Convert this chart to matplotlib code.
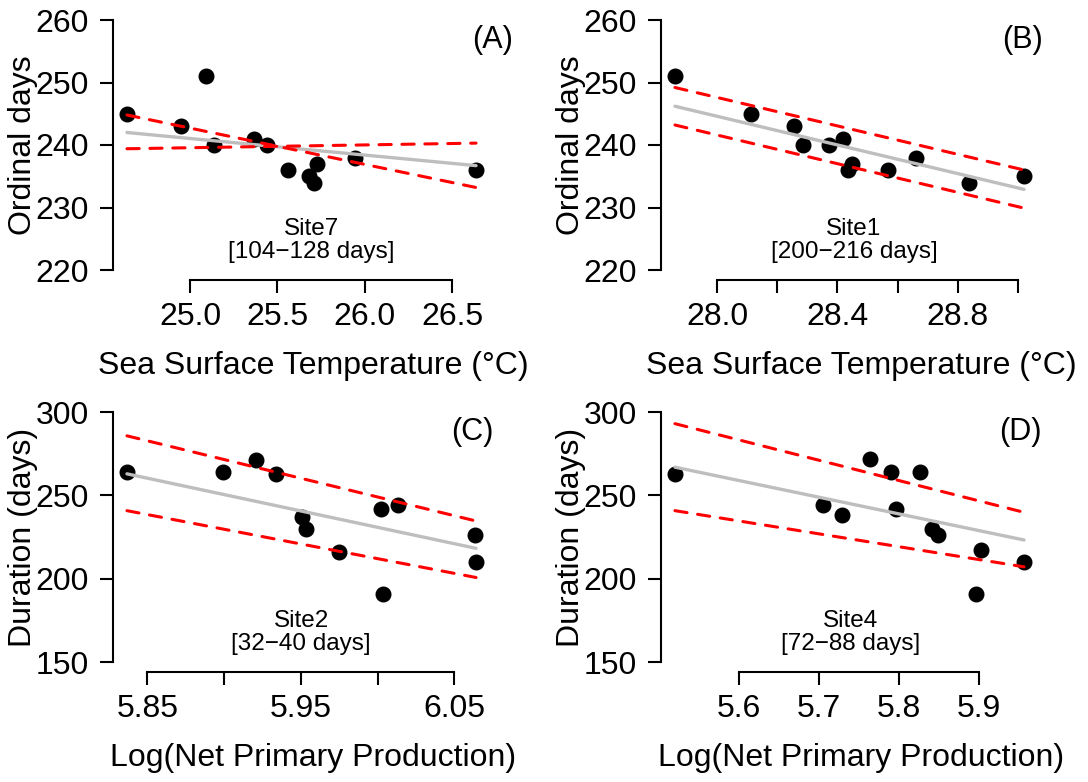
import numpy as np
import matplotlib
matplotlib.use('Agg')
import matplotlib.pyplot as plt

plt.rcParams['font.family'] = ['Liberation Sans', 'DejaVu Sans']

# panel A - Site7, SST
sst7 = [24.638, 24.948, 25.088, 25.137, 25.368, 25.439, 25.563, 25.683, 25.710, 25.729, 25.946, 26.637]
days7 = [245, 243, 251, 240, 241, 240, 236, 235, 234, 237, 238, 236]
fit7 = [242.0, 236.7]
band7_a = [244.8, 233.2]
band7_b = [239.4, 240.3]

# panel B - Site1, SST
sst1 = [27.859, 28.111, 28.255, 28.284, 28.373, 28.418, 28.436, 28.449, 28.569, 28.663, 28.838, 29.021]
days1 = [251, 245, 243, 240, 240, 241, 236, 237, 236, 238, 234, 235]
fit1 = [246.2, 232.9]
band1_a = [249.2, 236.0]
band1_b = [243.2, 229.9]

# panel C - Site2, NPP
npp2 = [5.8367, 5.8992, 5.921, 5.9337, 5.9505, 5.9535, 5.9752, 6.0023, 6.0034, 6.0132, 6.0637, 6.0642]
dur2 = [264, 264, 271, 263, 237, 230, 216, 242, 191, 244, 226, 210]
fit2 = [262.9, 218.2]
band2_a = [285.7, 234.6]
band2_b = [240.8, 200.7]

# panel D - Site4, NPP
npp4 = [5.520, 5.7054, 5.7291, 5.7638, 5.7904, 5.7966, 5.8263, 5.8417, 5.8491, 5.8966, 5.9021, 5.9563]
dur4 = [263, 244, 238, 272, 264, 242, 264, 230, 226, 191, 217, 210]
fit4 = [266.9, 223.2]
band4_a = [293.0, 239.8]
band4_b = [240.8, 207.1]

panels = [
    dict(x=sst7, y=days7, fit=fit7, b1=band7_a, b2=band7_b, tag='(A)', site='Site7\n[104\u2212128 days]',
         yticks=[220, 230, 240, 250, 260], xticks=[25.0, 25.5, 26.0, 26.5],
         xlabels=['25.0', '25.5', '26.0', '26.5'],
         xlab='Sea Surface Temperature (\u00b0C)', ylab='Ordinal days'),
    dict(x=sst1, y=days1, fit=fit1, b1=band1_a, b2=band1_b, tag='(B)', site='Site1\n[200\u2212216 days]',
         yticks=[220, 230, 240, 250, 260], xticks=[28.0, 28.2, 28.4, 28.6, 28.8, 29.0],
         xlabels=['28.0', '', '28.4', '', '28.8', ''],
         xlab='Sea Surface Temperature (\u00b0C)', ylab='Ordinal days'),
    dict(x=npp2, y=dur2, fit=fit2, b1=band2_a, b2=band2_b, tag='(C)', site='Site2\n[32\u221240 days]',
         yticks=[150, 200, 250, 300], xticks=[5.85, 5.90, 5.95, 6.00, 6.05],
         xlabels=['5.85', '', '5.95', '', '6.05'],
         xlab='Log(Net Primary Production)', ylab='Duration (days)'),
    dict(x=npp4, y=dur4, fit=fit4, b1=band4_a, b2=band4_b, tag='(D)', site='Site4\n[72\u221288 days]',
         yticks=[150, 200, 250, 300], xticks=[5.6, 5.7, 5.8, 5.9],
         xlabels=['5.6', '5.7', '5.8', '5.9'],
         xlab='Log(Net Primary Production)', ylab='Duration (days)'),
]

W, H = 1088, 782
fig = plt.figure(figsize=(W / 100, H / 100), dpi=100)

# plot regions in pixels: left, top, width, height
boxes = [(113, 10, 377, 270), (661, 10, 377, 270), (113, 402, 377, 270), (661, 402, 377, 270)]
site_x = [0.527, 0.512, 0.499, 0.503]
tag_x = [1.008, 0.958, 0.952, 0.954]

for p, (l, t, w, h), sx, tx in zip(panels, boxes, site_x, tag_x):
    ax = fig.add_axes([l / W, 1 - (t + h) / H, w / W, h / H])
    x = np.array(p['x'])
    y = np.array(p['y'])
    ends = [x.min(), x.max()]

    ax.plot(x, y, 'o', color='black', markersize=10.5, zorder=2)
    ax.plot(ends, p['fit'], color='#BEBEBE', lw=2.4, zorder=3, solid_capstyle='round')
    for b in (p['b1'], p['b2']):
        ax.plot(ends, b, color='red', lw=2.2, dashes=(4.0, 3.5), dash_capstyle='round', zorder=4)

    # R style 4% padding
    xr = x.max() - x.min()
    ax.set_xlim(x.min() - 0.04 * xr, x.max() + 0.04 * xr)
    yt = p['yticks']
    yr = yt[-1] - yt[0]
    ax.set_ylim(yt[0] - 0.04 * yr, yt[-1] + 0.04 * yr)

    ax.set_yticks(yt)
    ax.set_xticks(p['xticks'])
    ax.set_xticklabels(p['xlabels'])
    for s in ['top', 'right']:
        ax.spines[s].set_visible(False)
    ax.spines['left'].set_bounds(yt[0], yt[-1])
    ax.spines['bottom'].set_bounds(p['xticks'][0], p['xticks'][-1])
    for s in ['left', 'bottom']:
        ax.spines[s].set_linewidth(1.5)
    ax.tick_params(axis='both', length=9.5, width=1.5, labelsize=23)
    ax.tick_params(axis='y', pad=8)
    ax.tick_params(axis='x', pad=6)
    ax.patch.set_alpha(0)

    ax.text(tx, 0.889, p['tag'], transform=ax.transAxes, ha='center', va='center', fontsize=22)
    ax.text(sx, 0.145, p['site'], transform=ax.transAxes, ha='center', va='center',
            fontsize=17.5, linespacing=1.05)
    ax.text(0.531, -0.318, p['xlab'], transform=ax.transAxes, ha='center', va='center', fontsize=23)
    ax.text(-0.238, 0.5, p['ylab'], transform=ax.transAxes, ha='center', va='center',
            rotation=90, fontsize=23)

fig.savefig('out.png', dpi=100)
